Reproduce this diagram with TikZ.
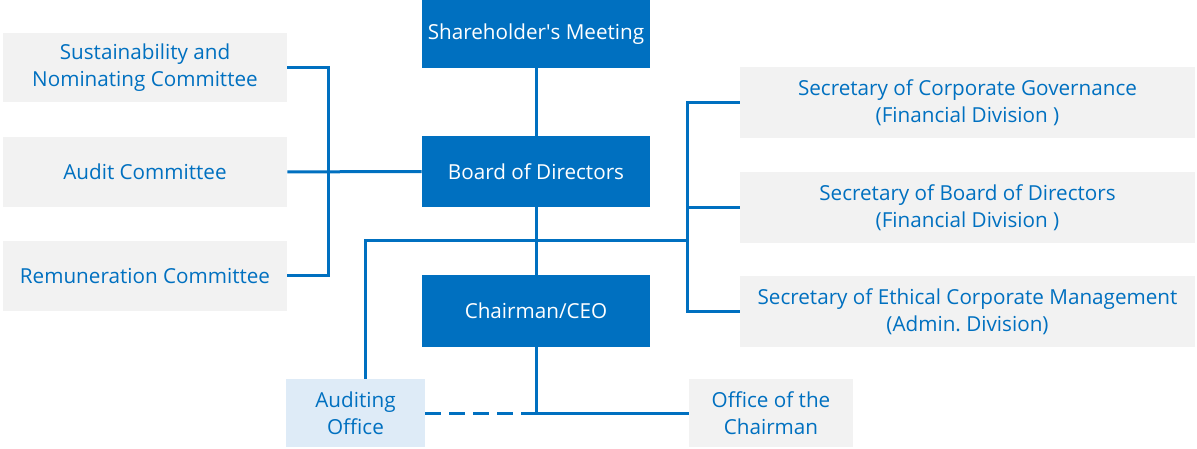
\documentclass[tikz,border=0pt]{standalone}
\usepackage{fontspec}
\setmainfont{Open Sans}
\usepackage{xcolor}
\definecolor{orgblue}{HTML}{0070C0}
\definecolor{orggray}{HTML}{F2F2F2}
\definecolor{orglight}{HTML}{DEEBF7}

\begin{document}
\begin{tikzpicture}[x=0.75pt, y=-0.75pt,
    link/.style={line width=2.25pt, orgblue},
    mainbox/.style={fill=orgblue, text=white, align=center, inner sep=0pt,
      font=\fontsize{15.5}{20}\selectfont},
    sidebox/.style={fill=orggray, text=orgblue, align=center, inner sep=0pt,
      font=\fontsize{15.5}{20}\selectfont},
    auditbox/.style={sidebox, fill=orglight}]
  \useasboundingbox (0,0) rectangle (1197,449);

  % Centre column
  \node[mainbox, minimum width=171pt, minimum height=51pt] (meet) at (536, 34) {Shareholder\textquotesingle s Meeting};
  \node[mainbox, minimum width=171pt, minimum height=53pt] (board) at (536, 171.5) {Board of Directors};
  \node[mainbox, minimum width=171pt, minimum height=54pt] (ceo) at (536, 311) {Chairman/CEO};

  % Committees
  \node[sidebox, minimum width=213pt, minimum height=52pt] (sust) at (145, 67.5) {Sustainability and\\Nominating Committee};
  \node[sidebox, minimum width=213pt, minimum height=52pt] (audit) at (145, 172) {Audit Committee};
  \node[sidebox, minimum width=213pt, minimum height=52pt] (remu) at (145, 276) {Remuneration Committee};

  % Secretaries
  \node[sidebox, minimum width=341pt, minimum height=53pt] (gov) at (967.5, 102.5) {Secretary of Corporate Governance\\(Financial Division )};
  \node[sidebox, minimum width=341pt, minimum height=53pt] (secb) at (967.5, 207.5) {Secretary of Board of Directors\\(Financial Division )};
  \node[sidebox, minimum width=341pt, minimum height=53pt] (ethic) at (967.5, 311.5) {Secretary of Ethical Corporate Management\\(Admin.\ Division)};

  % Offices
  \node[auditbox, minimum width=104pt, minimum height=51pt] (audoff) at (355.5, 413) {Auditing\\Office};
  \node[sidebox, minimum width=123pt, minimum height=51pt] (office) at (771, 413) {Office of the\\Chairman};

  % Connectors
  \draw[link] (meet) -- (board);
  \draw[link] (board) -- (ceo);
  \draw[link] (sust.east) -- ++(41,0) |- (remu.east);
  \draw[link] (audit) -- (board);
  \draw[link] (gov.west) -- ++(-52,0) |- (ethic.west);
  \draw[link] (secb.west) -- ++(-52,0);
  \coordinate (rbus) at (688, 241);
  \draw[link] (rbus) -| ([xshift=7.5pt]audoff.north);
  \draw[link] (ceo) |- (office);
  \draw[link, dash pattern=on 12pt off 6pt] (audoff) -- (ceo.south |- audoff);
\end{tikzpicture}
\end{document}
